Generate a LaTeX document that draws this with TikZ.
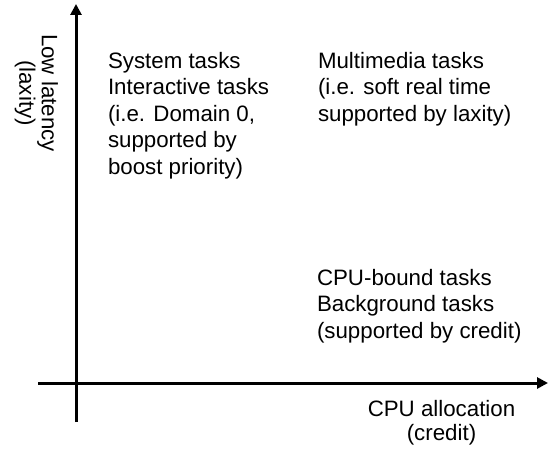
\documentclass[tikz,border=0pt]{standalone}
\usepackage{fontspec}
\setmainfont{Liberation Sans}
\usetikzlibrary{arrows.meta}
\tikzset{
  axis/.style={line width=3pt,-{Triangle[length=11pt,width=11pt]}},
  lbl/.style={inner sep=0pt,outer sep=0pt,font=\fontsize{22.3}{26.6}\selectfont},
}
\begin{document}
\begin{tikzpicture}[x=1pt,y=-1pt]
\useasboundingbox (0,0) rectangle (549,449);
\coordinate (ybot) at (76,422);
\coordinate (ytop) at (76,4);
\coordinate (xleft) at (38,383);
\coordinate (xright) at (548,383);
\draw[axis] (ybot) -- (ytop);
\draw[axis] (xleft) -- (xright);
\node[lbl,anchor=north west,align=left] (sys) at (108,52) {System tasks\\Interactive tasks\\(i.e. Domain 0,\\supported by\\boost priority)};
\node[lbl,anchor=north west,align=left] (mm) at (318,52) {Multimedia tasks\\(i.e. soft real time\\supported by laxity)};
\node[lbl,anchor=north west,align=left] (cpu) at (317,269) {CPU-bound tasks\\Background tasks\\(supported by credit)};
\node[lbl,anchor=north,align=center,font=\fontsize{22.3}{24}\selectfont] (xl) at (441.5,400) {CPU allocation\\(credit)};
\node[lbl,anchor=north,align=center,rotate=-90,font=\fontsize{22.3}{22.5}\selectfont] (yl) at (58,93) {Low latency\\(laxity)};
\end{tikzpicture}
\end{document}
